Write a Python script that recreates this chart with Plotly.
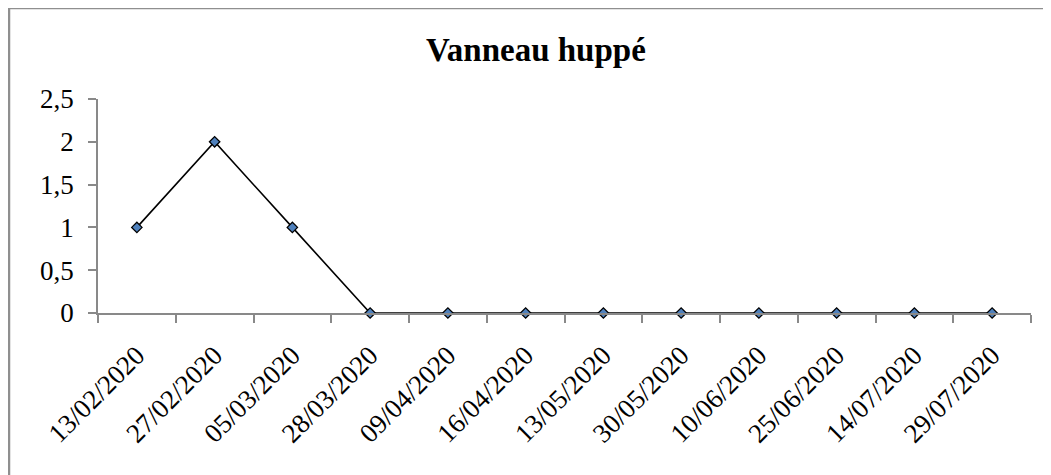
import plotly.graph_objects as go

dates = ["13/02/2020", "27/02/2020", "05/03/2020", "28/03/2020", "09/04/2020",
         "16/04/2020", "13/05/2020", "30/05/2020", "10/06/2020", "25/06/2020",
         "14/07/2020", "29/07/2020"]
counts = [1, 2, 1, 0, 0, 0, 0, 0, 0, 0, 0, 0]
y_ticks = [0, 0.5, 1, 1.5, 2, 2.5]
y_tick_labels = ["0", "0,5", "1", "1,5", "2", "2,5"]
title_text = "Vanneau huppé"

# page body has an 8px margin; figure sized to fit the window
W, H = 1043, 467
L, R, T, B = 90, 20, 91, 162
pw, ph = W - L - R, H - T - B

FONT = "Liberation Serif, Times New Roman, serif"
AXIS_GRAY = "#898989"

fig = go.Figure(go.Scatter(
    x=dates, y=counts, mode="lines+markers",
    line=dict(color="black", width=1.6),
    marker=dict(symbol="diamond", size=8, color="#4F81BD",
                line=dict(color="black", width=1.3)),
    cliponaxis=False, showlegend=False,
))

def px_to_paper_x(px):
    return (px - L) / pw

def px_to_paper_y(py):
    return (H - B - py) / ph

fig.update_layout(
    width=W, height=H,
    margin=dict(l=L, r=R, t=T, b=B),
    paper_bgcolor="white", plot_bgcolor="white",
    font=dict(family=FONT, size=24, color="black"),
    annotations=[dict(
        text="<b>" + title_text + "</b>", xref="paper", yref="paper",
        x=px_to_paper_x(528), y=px_to_paper_y(42), xanchor="center", yanchor="middle",
        showarrow=False, font=dict(family=FONT, size=33, color="black"),
    )],
    shapes=[dict(
        type="path", xref="paper", yref="paper",
        path=f"M {px_to_paper_x(1)} {px_to_paper_y(480)} L {px_to_paper_x(1)} {px_to_paper_y(0)} L {px_to_paper_x(1060)} {px_to_paper_y(0)}",
        line=dict(color="#8f8f8f", width=2.5),
    )],
)

fig.update_xaxes(
    type="category", tickson="boundaries", ticks="outside", ticklen=8,
    tickcolor=AXIS_GRAY, tickwidth=1.5, showline=True, linecolor=AXIS_GRAY,
    linewidth=1.5, showgrid=False, zeroline=False, tickangle=-45,
    ticklabelstandoff=14, tickfont=dict(family=FONT, size=27),
    range=[-0.5, len(dates) - 0.5],
)
fig.update_yaxes(
    range=[0, 2.5], tickvals=y_ticks, ticktext=y_tick_labels,
    ticks="outside", ticklen=8, tickcolor=AXIS_GRAY, tickwidth=1.5,
    showline=True, linecolor=AXIS_GRAY, linewidth=1.5, showgrid=False,
    zeroline=False, ticklabelstandoff=9, tickfont=dict(family=FONT, size=27),
)

fig.write_html("out.html")
